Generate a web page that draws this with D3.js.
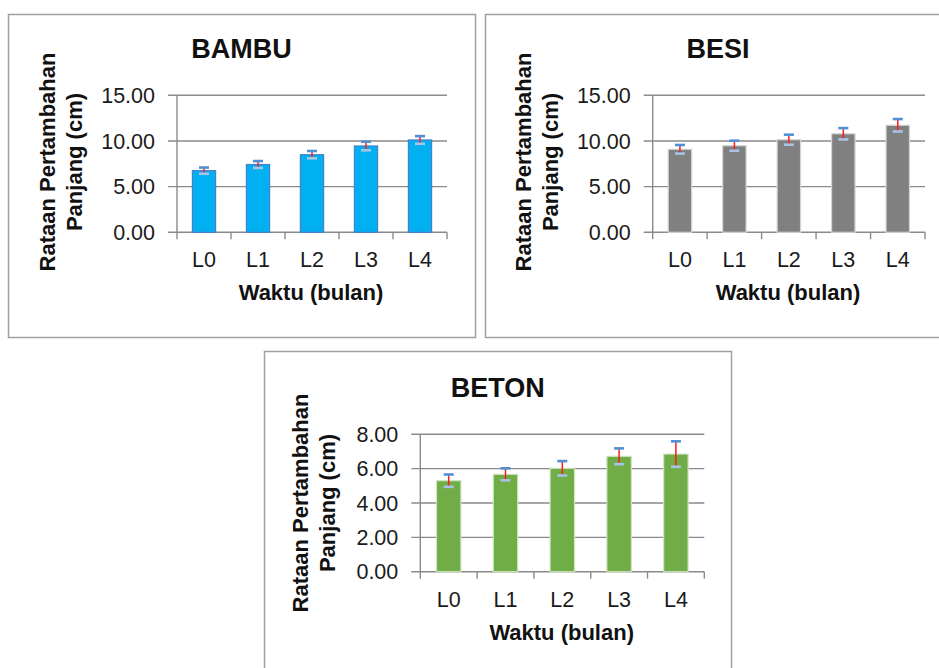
<!DOCTYPE html>
<html>
<head>
<meta charset="utf-8">
<script src="https://cdn.jsdelivr.net/npm/d3@7"></script>
<style>
  html, body { margin: 0; padding: 0; background: #fff; }
  svg { display: block; font-family: "Liberation Sans", Arial, sans-serif; }
</style>
</head>
<body>
<svg id="chart" width="939" height="668"></svg>
<script>
// Growth periods (months)
const categories = ["L0", "L1", "L2", "L3", "L4"];

// Mean length increase (cm) and standard error per substrate
const bambuValues = [6.75, 7.42, 8.50, 9.45, 10.11];
const bambuErrors = [0.34, 0.38, 0.40, 0.47, 0.42];
const besiValues  = [9.09, 9.48, 10.14, 10.79, 11.72];
const besiErrors  = [0.47, 0.55, 0.55, 0.62, 0.68];
const betonValues = [5.30, 5.67, 6.02, 6.72, 6.85];
const betonErrors = [0.36, 0.35, 0.42, 0.46, 0.74];

// Axis ticks
const ticks15 = [0, 5, 10, 15];
const ticks8  = [0, 2, 4, 6, 8];

const yTitleLines = ["Rataan Pertambahan", "Panjang (cm)"];
const xTitle = "Waktu (bulan)";

const svg = d3.select("#chart");

function drawPanel(p) {
  const g = svg.append("g");

  // outer frame
  g.append("rect")
    .attr("x", p.frame[0] + 0.5).attr("y", p.frame[1] + 0.5)
    .attr("width", p.frame[2]).attr("height", p.frame[3])
    .attr("fill", "#fff").attr("stroke", "#a0a0a0").attr("stroke-width", 1.5);

  const x = d3.scaleBand().domain(categories)
    .range([p.plot.x0, p.plot.x1]).paddingInner(0.57).paddingOuter(0.285);
  const y = d3.scaleLinear().domain([0, p.max]).range([p.plot.y0, p.plot.y1]);

  // horizontal gridlines
  g.append("g").selectAll("line").data(p.ticks).join("line")
    .attr("x1", p.plot.x0 - 9).attr("x2", p.plot.x1)
    .attr("y1", d => y(d)).attr("y2", d => y(d))
    .attr("stroke", "#8a8a8a").attr("stroke-width", 1.4);

  // y axis line
  g.append("line")
    .attr("x1", p.plot.x0).attr("x2", p.plot.x0)
    .attr("y1", p.plot.y1).attr("y2", p.plot.y0 + 7)
    .attr("stroke", "#8a8a8a").attr("stroke-width", 1.4);

  // x category boundary ticks
  const bounds = categories.map(c => x(c) - x.step() * x.paddingInner() / 2);
  bounds.push(p.plot.x1);
  g.append("g").selectAll("line").data(bounds.slice(1)).join("line")
    .attr("x1", d => d).attr("x2", d => d)
    .attr("y1", p.plot.y0).attr("y2", p.plot.y0 + 7)
    .attr("stroke", "#8a8a8a").attr("stroke-width", 1.4);

  // y tick labels
  g.append("g").selectAll("text").data(p.ticks).join("text")
    .attr("x", p.plot.x0 - 22).attr("y", d => y(d))
    .attr("dy", "0.36em").attr("text-anchor", "end")
    .attr("font-size", 21.5).attr("fill", "#1a1a1a")
    .text(d => d3.format(".2f")(d));

  // x tick labels
  g.append("g").selectAll("text").data(categories).join("text")
    .attr("x", c => x(c) + x.bandwidth() / 2).attr("y", p.plot.y0 + 35)
    .attr("text-anchor", "middle")
    .attr("font-size", 21.5).attr("fill", "#1a1a1a")
    .text(c => c);

  // bars
  const data = categories.map((c, i) => ({ c, v: p.values[i], e: p.errors[i] }));
  g.append("g").selectAll("rect").data(data).join("rect")
    .attr("x", d => x(d.c)).attr("width", x.bandwidth())
    .attr("y", d => y(d.v)).attr("height", d => y(0) - y(d.v))
    .attr("fill", p.color).attr("stroke", p.edge).attr("stroke-width", 1.2);

  // error bars
  const eb = g.append("g").selectAll("g").data(data).join("g");
  const cx = d => x(d.c) + x.bandwidth() / 2;
  eb.append("line")
    .attr("x1", cx).attr("x2", cx)
    .attr("y1", d => y(d.v + d.e)).attr("y2", d => y(d.v - d.e))
    .attr("stroke", "#ff1a1a").attr("stroke-width", 1.5);
  eb.append("line")
    .attr("x1", d => cx(d) - 5).attr("x2", d => cx(d) + 5)
    .attr("y1", d => y(d.v + d.e)).attr("y2", d => y(d.v + d.e))
    .attr("stroke", "#4f8fd3").attr("stroke-width", 2.6);
  eb.append("line")
    .attr("x1", d => cx(d) - 5).attr("x2", d => cx(d) + 5)
    .attr("y1", d => y(d.v - d.e)).attr("y2", d => y(d.v - d.e))
    .attr("stroke", "#a9c3e6").attr("stroke-width", 2.6);

  // chart title
  g.append("text")
    .attr("x", p.titlePos[0]).attr("y", p.titlePos[1])
    .attr("text-anchor", "middle").attr("font-weight", "bold")
    .attr("font-size", 27).attr("fill", "#111")
    .text(p.title);

  // y axis title (two lines, rotated)
  yTitleLines.forEach((line, i) => {
    g.append("text")
      .attr("transform", `translate(${p.yTitle[0] + i * 27},${p.yTitle[1]}) rotate(-90)`)
      .attr("text-anchor", "middle").attr("dy", "0.35em")
      .attr("font-weight", "bold").attr("font-size", 22).attr("fill", "#111")
      .text(line);
  });

  // x axis title
  g.append("text")
    .attr("x", p.xTitle[0]).attr("y", p.xTitle[1])
    .attr("text-anchor", "middle").attr("font-weight", "bold")
    .attr("font-size", 22).attr("fill", "#111")
    .text(xTitle);
}

drawPanel({
  title: "BAMBU", values: bambuValues, errors: bambuErrors, max: 15, ticks: ticks15,
  color: "#00b0f0", edge: "#4a7fcb",
  frame: [8, 14, 467, 323],
  plot: { x0: 177, x1: 447, y0: 232.3, y1: 95.3 },
  titlePos: [241.5, 58], yTitle: [47, 162], xTitle: [311, 300]
});

drawPanel({
  title: "BESI", values: besiValues, errors: besiErrors, max: 15, ticks: ticks15,
  color: "#808080", edge: "#d4d4d4",
  frame: [485, 14, 470, 323],
  plot: { x0: 652.7, x1: 925, y0: 232.3, y1: 95.3 },
  titlePos: [718, 58], yTitle: [523, 162], xTitle: [788, 300]
});

drawPanel({
  title: "BETON", values: betonValues, errors: betonErrors, max: 8, ticks: ticks8,
  color: "#70ad47", edge: "#cfe5c0",
  frame: [264, 351, 467, 330],
  plot: { x0: 420.3, x1: 704.3, y0: 571.7, y1: 434.3 },
  titlePos: [497.7, 396.7], yTitle: [300, 503], xTitle: [561.7, 640]
});
</script>
</body>
</html>
